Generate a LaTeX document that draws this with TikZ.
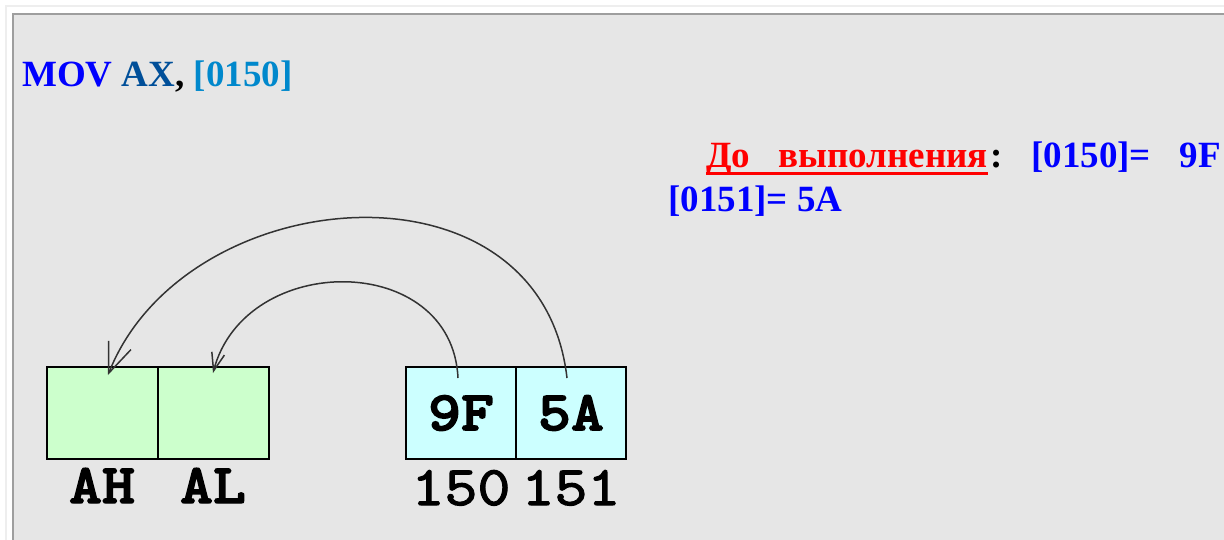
\documentclass[tikz,border=0pt]{standalone}
\usepackage{fontspec}
\setmainfont{Liberation Serif}
\newfontfamily\regfont{lmmonolt10-bold.otf}[FakeBold=2.5,FakeStretch=1.12]
\newfontfamily\addrfont{lmmono10-regular.otf}[FakeBold=2,FakeStretch=1.12]
\usepackage{xcolor}
\usetikzlibrary{positioning,arrows.meta}
\definecolor{panelgray}{HTML}{E6E6E6}
\definecolor{framegray}{HTML}{9E9E9E}
\definecolor{outergray}{HTML}{EEEEEE}
\definecolor{regfill}{HTML}{CCFFCC}
\definecolor{memfill}{HTML}{CCFFFF}
\definecolor{movblue}{HTML}{0000FF}
\definecolor{axblue}{HTML}{004F99}
\definecolor{addrblue}{HTML}{0088CC}
\definecolor{arcgray}{HTML}{333333}

\begin{document}
\begin{tikzpicture}[x=1pt,y=-1pt,
  reg/.style={draw,line width=2pt,outer sep=0pt,inner sep=0pt,minimum width=111pt,minimum height=92pt,fill=regfill},
  mem/.style={reg,fill=memfill,minimum width=110pt,font=\fontsize{56pt}{64pt}\selectfont\regfont},
  lbl/.style={font=\fontsize{56pt}{64pt}\selectfont\regfont,inner sep=0pt,anchor=base},
  rtxt/.style={font=\fontsize{37pt}{44pt}\selectfont\bfseries,inner sep=0pt,text=movblue},
  move/.style={draw=arcgray,line width=1.5pt}]
\useasboundingbox (0,0) rectangle (1224,540);
% panel
\draw[outergray,line width=2pt] (6,6) rectangle (1260,570);
\draw[fill=panelgray,draw=framegray,line width=2pt] (13,14) rectangle (1260,570);
% command
\node[rtxt,anchor=base west] (cmd) at (22,87) {MOV \textcolor{axblue}{AX}\textcolor{black}{,} \textcolor{addrblue}{[0150]}};
% memory state
\node[rtxt,anchor=base west,text=red] (before) at (706,168) {До};
\node[rtxt,anchor=base east,text=red] (exec) at (988,168) {выполнения};
\node[rtxt,anchor=base west,text=black] (colon) at (990,168) {:};
\node[rtxt,anchor=base west] (cell0) at (1031,168) {[0150]=};
\node[rtxt,anchor=base east] (val0) at (1221,168) {9F};
\node[rtxt,anchor=base west] (cell1) at (668,212) {[0151]= 5A};
\draw[red,line width=3pt] ([yshift=-5.5pt]before.base west) -- ([yshift=-5.5pt]exec.base east);
% registers
\foreach \r [count=\i from 0] in {AH,AL}{
  \node[reg] (r\r) at (102+\i*111,413) {};
  \node[lbl] (l\r) at ([yshift=-44pt]r\r.south) {\r};
}
% memory cells
\foreach \v/\a [count=\i from 0] in {9F/150,5A/151}{
  \node[mem] (m\a) at (461+\i*110,413) {\v};
  \node[lbl,font=\fontsize{56pt}{64pt}\selectfont\addrfont] (l\a) at ([yshift=-46pt]m\a.south) {\a};
}
% transfers
\draw[move,-{Straight Barb[length=30pt,width=24pt]}] ([xshift=-4pt,yshift=-11pt]m151.north) .. controls +(-26,-228) and +(77,-195) .. ([xshift=6pt,yshift=-8pt]rAH.north);
\draw[move,-{Straight Barb[length=18pt,width=13pt]}] ([xshift=-3pt,yshift=-11pt]m150.north) .. controls +(-6,-127) and +(32,-122) .. ([yshift=-6pt]rAL.north);
\end{tikzpicture}
\end{document}
